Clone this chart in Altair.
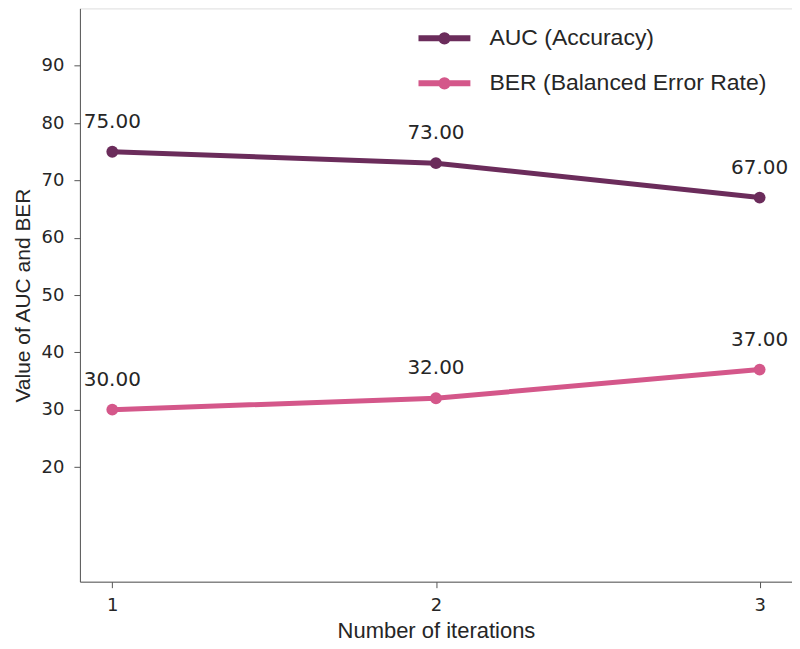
import altair as alt
import pandas as pd

iterations = [1, 2, 3]
auc_values = [75.0, 73.0, 67.0]
ber_values = [30.0, 32.0, 37.0]
series_names = ["AUC (Accuracy)", "BER (Balanced Error Rate)"]
series_colors = ["#6b2c5b", "#d4578a"]
y_ticks = [20, 30, 40, 50, 60, 70, 80, 90]
x_ticks = [1, 2, 3]

rows = []
for i, v in zip(iterations, auc_values):
    rows.append({"iter": i, "value": v, "series": series_names[0]})
for i, v in zip(iterations, ber_values):
    rows.append({"iter": i, "value": v, "series": series_names[1]})
df = pd.DataFrame(rows)
df["label"] = df["value"].map(lambda v: f"{v:.2f}")

x = alt.X("iter:Q", scale=alt.Scale(domain=[0.9, 3.1], nice=False, zero=False),
          axis=alt.Axis(values=x_ticks, format="d", title="Number of iterations",
                        grid=False, tickSize=6, labelFontSize=18, labelPadding=9,
                        titleFontSize=22, titlePadding=6, titleFont="Liberation Sans",
                        titleFontWeight="normal", domainColor="#555555", tickColor="#555555",
                        labelColor="#262626", titleColor="#262626", labelFont="DejaVu Sans"))
y = alt.Y("value:Q", scale=alt.Scale(domain=[0, 100], nice=False),
          axis=alt.Axis(values=y_ticks, title="Value of AUC and BER", grid=False,
                        tickSize=6, labelFontSize=18, labelPadding=10,
                        titleFontSize=21, titlePadding=8, titleFont="Liberation Sans",
                        titleFontWeight="normal", domainColor="#555555", tickColor="#555555",
                        labelColor="#262626", titleColor="#262626", labelFont="DejaVu Sans"))

legend_path = ("M-1,0L1,0M-0.12,0A0.12,0.12,0,1,1,0.12,0A0.12,0.12,0,1,1,-0.12,0")
color = alt.Color("series:N", scale=alt.Scale(domain=series_names, range=series_colors),
                  legend=alt.Legend(title=None, orient="none", legendX=336, legendY=1,
                                    symbolType=legend_path, symbolSize=2700,
                                    symbolStrokeWidth=6, labelFontSize=23,
                                    labelFont="Liberation Sans", labelColor="#262626",
                                    labelOffset=16, rowPadding=-7, labelLimit=600))

base = alt.Chart(df)
lines = base.mark_line(strokeWidth=5).encode(x=x, y=y, color=color)
points = base.mark_circle(size=140, opacity=1).encode(
    x=x, y=y,
    color=alt.Color("series:N", scale=alt.Scale(domain=series_names, range=series_colors), legend=None))
labels = base.mark_text(dy=-30, fontSize=20, font="DejaVu Sans", color="#262626").encode(
    x=x, y=y, text="label:N")

chart = alt.layer(lines, points, labels).properties(
    width=713, height=574,
    autosize=alt.AutoSizeParams(type="none"),
    padding={"left": 72, "top": 0, "right": 0, "bottom": 61},
).configure_view(stroke=None).configure(background="white")

chart.save("out.html", embed_options={"renderer": "svg", "actions": False})
